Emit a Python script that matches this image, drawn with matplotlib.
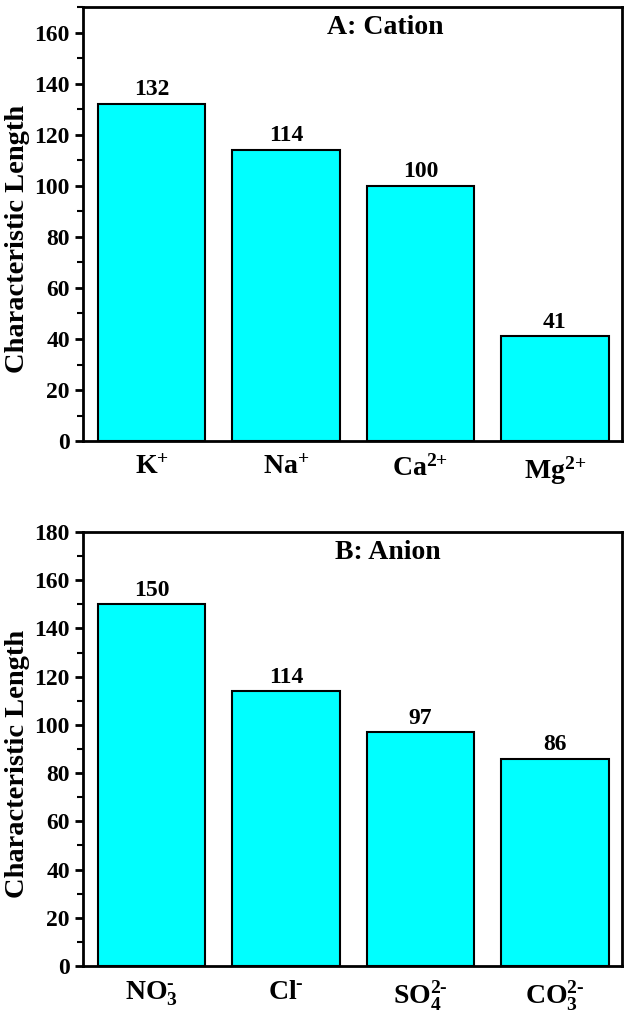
import matplotlib
matplotlib.use('Agg')
from matplotlib import pyplot as plt
from matplotlib.ticker import MultipleLocator

# Data
cations = [r'$\mathrm{K^{\text{+}}}$', r'$\mathrm{Na^{\text{+}}}$',
           r'$\mathrm{Ca^{\text{2+}}}$', r'$\mathrm{Mg^{\text{2+}}}$']
cation_values = [132, 114, 100, 41]
anions = [r'$\mathrm{NO_{3}^{\text{-}}}$', r'$\mathrm{Cl^{\text{-}}}$',
          r'$\mathrm{SO_{4}^{\text{2-}}}$', r'$\mathrm{CO_{3}^{\text{2-}}}$']
anion_values = [150, 114, 97, 86]

bar_color = '#00FFFF'

plt.rcParams.update({
    'font.family': 'Liberation Serif',
    'font.weight': 'bold',
    'mathtext.fontset': 'custom',
    'mathtext.rm': 'Liberation Serif:bold',
    'mathtext.bf': 'Liberation Serif:bold',
    'mathtext.it': 'Liberation Serif:bold:italic',
    'axes.linewidth': 2,
})

fig = plt.figure(figsize=(6.29, 10.14), dpi=100)
ax_top = fig.add_axes([0.132, 0.565, 0.857, 0.428])
ax_bot = fig.add_axes([0.132, 0.0473, 0.857, 0.428])


def draw_panel(ax, labels, values, ymax, title, title_x):
    x = list(range(len(values)))
    bars = ax.bar(x, values, width=0.8, color=bar_color, edgecolor='black', linewidth=1.5)
    for b, v in zip(bars, values):
        ax.text(b.get_x() + b.get_width() / 2, v + 1.5, str(v), ha='center', va='bottom',
                fontsize=17, fontweight='bold')
    ax.set_xlim(-0.51, 3.5)
    ax.set_ylim(0, ymax)
    ax.set_xticks(x)
    ax.set_xticklabels(labels, fontsize=20)
    ax.tick_params(axis='x', length=0, pad=10)
    ax.yaxis.set_major_locator(MultipleLocator(20))
    ax.yaxis.set_minor_locator(MultipleLocator(10))
    ax.tick_params(axis='y', which='major', direction='out', length=6, width=2, labelsize=17)
    ax.tick_params(axis='y', which='minor', direction='out', length=4, width=1.5)
    ax.set_ylabel('Characteristic Length', fontsize=20.5, fontweight='bold')
    ax.yaxis.set_label_coords(-0.098, 0.465)
    ax.text(title_x, 0.952, title, transform=ax.transAxes, ha='center', va='center',
            fontsize=20, fontweight='bold')


draw_panel(ax_top, cations, cation_values, 170, 'A: Cation', 0.56)
draw_panel(ax_bot, anions, anion_values, 180, 'B: Anion', 0.565)

fig.savefig('out.png', dpi=100)
